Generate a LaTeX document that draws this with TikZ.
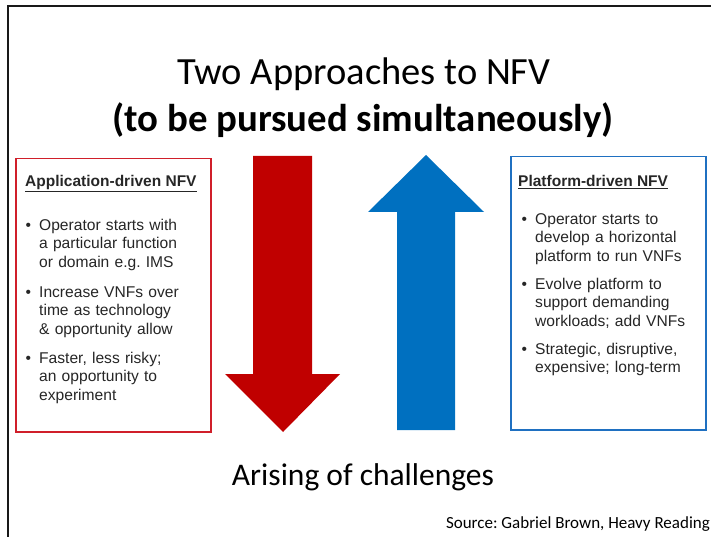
\documentclass[tikz,border=0pt]{standalone}
\usepackage{fontspec}
\setmainfont{Carlito}
\newfontfamily\arialfont{Liberation Sans}
\usetikzlibrary{positioning}
\frenchspacing
\definecolor{nfvred}{HTML}{C00000}
\definecolor{nfvblue}{HTML}{0070C0}
\definecolor{boxred}{HTML}{D01F2A}
\definecolor{boxblue}{HTML}{1F70C1}
\newcommand{\bul}{\noindent\llap{\textbullet\hspace{8pt}}}
\tikzset{
  frame/.style    ={line width=2pt,black!90},
  panel/.style    ={draw,line width=1.5pt,anchor=north west,inner sep=0pt,minimum width=195pt,minimum height=273pt},
  heading/.style  ={anchor=base west,inner sep=0pt,text=black!85,font=\arialfont\fontsize{15.5}{18.5}\selectfont\bfseries},
  bullets/.style  ={anchor=base west,inner sep=0pt,align=left,text width=168pt,text=black!85,
                    font=\arialfont\fontsize{15.6}{18.8}\selectfont},
  title/.style    ={anchor=base,inner sep=0pt,font=\fontsize{38.5}{44}\selectfont},
  subtitle/.style ={anchor=base,inner sep=0pt,font=\fontsize{38.8}{44}\selectfont\bfseries},
  caption/.style  ={anchor=base,inner sep=0pt,font=\fontsize{31.5}{36}\selectfont},
  source/.style   ={anchor=base east,inner sep=0pt,font=\fontsize{17}{20}\selectfont}
}
\begin{document}
\begin{tikzpicture}[x=1pt,y=-1pt]
  \useasboundingbox (0,0) rectangle (711,537);
  \coordinate (fbot) at (8,537);
  \coordinate (fcorner) at (8,6);
  \coordinate (fright) at (711,6);
  \draw[frame] (fbot) -- (fcorner) -- (fright);

  \node[title]    (title)    at (364,85)  {Two Approaches to NFV};
  \node[subtitle] (subtitle) at (363,132) {(to be pursued simultaneously)};

  \node[panel,draw=boxred]  (appbox)  at (15,158)  {};
  \node[panel,draw=boxblue] (platbox) at (510,156) {};

  \node[heading] (apphead) at (25,187) {\underline{Application-driven NFV}};
  \node[bullets] (app1) at (39,230) {\bul Operator starts with\\a particular function\\or domain e.g. IMS};
  \node[bullets] (app2) at (39,297) {\bul Increase VNFs over\\time as technology\\\& opportunity allow};
  \node[bullets] (app3) at (39,363) {\bul Faster, less risky;\\an opportunity to\\experiment};

  \node[heading] (plathead) at (518,187) {\underline{Platform-driven NFV}};
  \node[bullets] (plat1) at (535,224) {\bul Operator starts to\\develop a horizontal\\platform to run VNFs};
  \node[bullets] (plat2) at (535,289) {\bul Evolve platform to\\support demanding\\workloads; add VNFs};
  \node[bullets] (plat3) at (535,354) {\bul Strategic, disruptive,\\expensive; long-term};

  \fill[nfvred]  (253,156) -- (312,156) -- (312,374) -- (340,374) -- (283,432)
                 -- (225,374) -- (253,374) -- cycle;
  \fill[nfvblue] (397,430) -- (455,430) -- (455,212) -- (484,212) -- (426,155)
                 -- (368,212) -- (397,212) -- cycle;

  \node[caption] (challenges) at (363,485) {Arising of challenges};
  \node[source]  (source)     at (710,528) {Source: Gabriel Brown, Heavy Reading};
\end{tikzpicture}
\end{document}
